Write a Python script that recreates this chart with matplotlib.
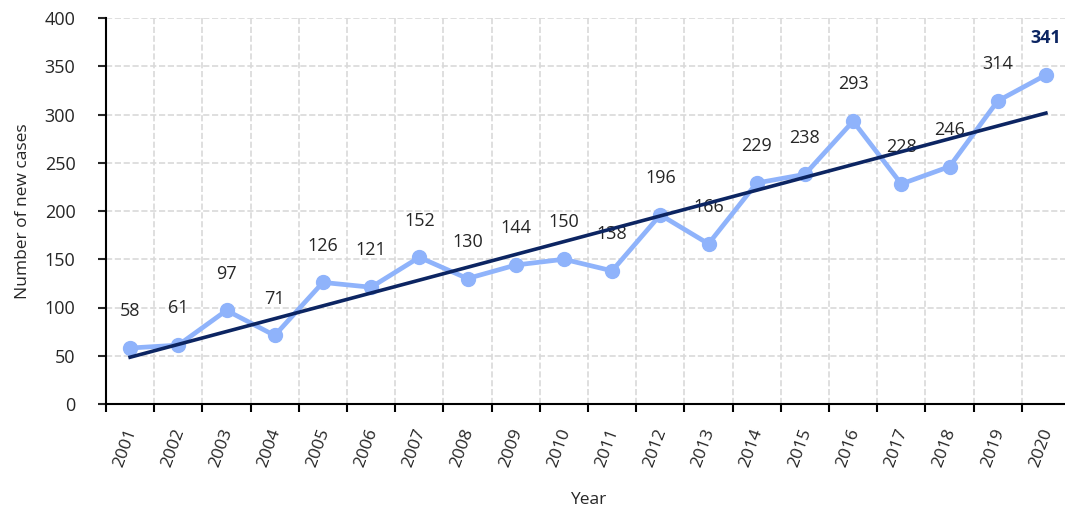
import numpy as np
import matplotlib
matplotlib.use("Agg")
import matplotlib.pyplot as plt
from matplotlib.transforms import ScaledTranslation

plt.rcParams['font.family'] = ['Open Sans', 'DejaVu Sans']

years = [str(y) for y in range(2001, 2021)]
cases = [58, 61, 97, 71, 126, 121, 152, 130, 144, 150, 138, 196, 166, 229, 238, 293, 228, 246, 314, 341]

LINE_BLUE = '#8fb3fb'
NAVY = '#0c2562'
TXT = '#262626'

x = np.arange(len(years))
fig = plt.figure(figsize=(10.65, 5.11), dpi=100)
ax = fig.add_axes([106 / 1065, 1 - 404 / 511, 964 / 1065, 386 / 511])

ax.plot(x, cases, color=LINE_BLUE, lw=3.4, marker='o', ms=10, zorder=3)

# linear trend line
slope, intercept = np.polyfit(x, cases, 1)
ax.plot(x, slope * x + intercept, color=NAVY, lw=2.6, zorder=5)

for i, v in enumerate(cases):
    last = i == len(cases) - 1
    ax.annotate(str(v), (x[i], v), xytext=(0, 26.5), textcoords='offset points',
                ha='center', va='center', fontsize=13,
                color=NAVY if last else TXT,
                fontweight='bold' if last else 'normal', zorder=4)

ax.set_xlim(-0.5, len(years) - 0.5)
ax.set_ylim(0, 400)
ax.set_yticks(range(0, 401, 50))
ax.set_xticks(x, years, rotation=70, fontsize=12.5)
ax.set_xticks(np.arange(-0.5, len(years) - 0.5), minor=True)
ax.tick_params(axis='x', which='major', length=0, pad=16)
ax.tick_params(axis='x', which='minor', length=6, width=1.5, direction='out')
ax.tick_params(axis='y', length=6, width=1.5, labelsize=13, colors=TXT, pad=16)
ax.tick_params(axis='x', colors=TXT)
shift = ScaledTranslation(-5 / 100, 0, fig.dpi_scale_trans)
for lab in ax.get_xticklabels():
    lab.set_transform(lab.get_transform() + shift)

ax.grid(True, which='minor', axis='x', color='#d9d9d9', ls='--', lw=1.2)
ax.grid(True, which='major', axis='y', color='#d9d9d9', ls='--', lw=1.2)
ax.set_axisbelow(True)

for s in ['top', 'right']:
    ax.spines[s].set_visible(False)
for s in ['left', 'bottom']:
    ax.spines[s].set_linewidth(1.5)
    ax.spines[s].set_color('black')

ax.set_ylabel('Number of new cases', fontsize=12.5, color=TXT, labelpad=10)
ax.set_xlabel('Year', fontsize=12.5, color=TXT, labelpad=16)

fig.savefig('out.png', dpi=100)
